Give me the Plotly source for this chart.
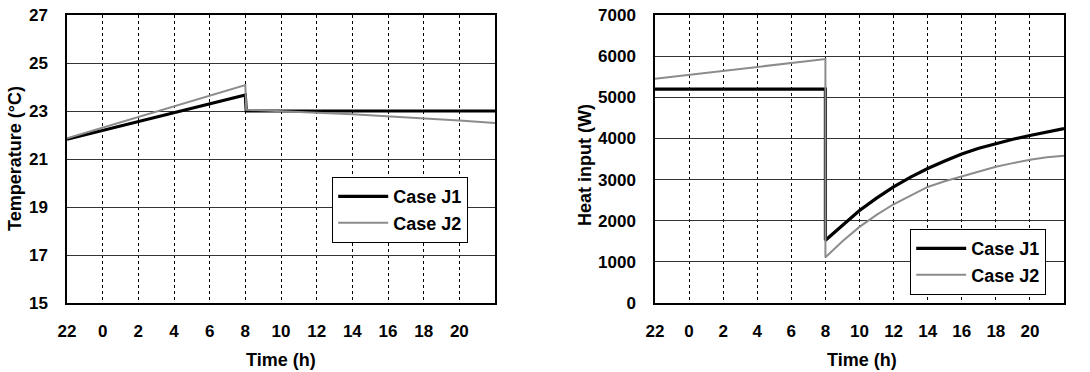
import plotly.graph_objects as go

# Time axis: hours elapsed since 22:00 (0 = 22h, 10 = 8h, 24 = 22h next day)
tick_vals = [0, 2, 4, 6, 8, 10, 12, 14, 16, 18, 20, 22]
tick_text = ["22", "0", "2", "4", "6", "8", "10", "12", "14", "16", "18", "20"]

# Temperature (°C)
temp_t_j1 = [0, 10, 10.05, 24]
temp_j1 = [21.82, 23.67, 23.0, 23.0]
temp_t_j2 = [0, 10, 10.05, 12, 14, 16, 18, 20, 22, 24]
temp_j2 = [21.86, 24.08, 23.05, 23.0, 22.93, 22.86, 22.78, 22.69, 22.6, 22.5]

# Heat input (W)
heat_t = [0, 10, 10, 11, 12, 13, 14, 15, 16, 17, 18, 19, 20, 21, 22, 23, 24]
heat_j1 = [5200, 5200, 1525, 1900, 2250, 2550, 2820, 3060, 3270, 3450, 3620,
           3760, 3880, 3980, 4070, 4160, 4240]
heat_j2 = [5450, 5930, 1110, 1500, 1850, 2140, 2400, 2620, 2820, 2960, 3080,
           3200, 3310, 3400, 3480, 3540, 3580]

FONT = "Liberation Sans, Arial, sans-serif"
J1_STYLE = dict(color="black", width=3.2)
J2_STYLE = dict(color="#8c8c8c", width=2)

fig = go.Figure()
fig.add_trace(go.Scatter(x=temp_t_j1, y=temp_j1, mode="lines", name="Case J1",
                         line=J1_STYLE, xaxis="x", yaxis="y", legend="legend"))
fig.add_trace(go.Scatter(x=temp_t_j2, y=temp_j2, mode="lines", name="Case J2",
                         line=J2_STYLE, xaxis="x", yaxis="y", legend="legend"))
fig.add_trace(go.Scatter(x=heat_t, y=heat_j1, mode="lines", name="Case J1",
                         line=J1_STYLE, xaxis="x2", yaxis="y2", legend="legend2"))
fig.add_trace(go.Scatter(x=heat_t, y=heat_j2, mode="lines", name="Case J2",
                         line=J2_STYLE, xaxis="x2", yaxis="y2", legend="legend2"))

W, H = 1090, 372
def px_x(p):
    return p / W
def px_y(p):
    return 1 - p / H

common_x = dict(range=[0, 24], tickmode="array", tickvals=tick_vals, ticktext=tick_text,
                showgrid=True, gridcolor="black", gridwidth=1, griddash="dot",
                showline=True, linecolor="black", linewidth=1.5, mirror=True,
                ticks="", zeroline=False, ticklabelstandoff=12, automargin=False,
                tickfont=dict(family=FONT, size=17, color="black", weight="bold"))
common_y = dict(showgrid=True, gridcolor="#333333", gridwidth=1,
                showline=True, linecolor="black", linewidth=1.5, mirror=True,
                ticks="", zeroline=False, ticklabelstandoff=14, automargin=False,
                tickfont=dict(family=FONT, size=17, color="black", weight="bold"))

legend_common = dict(xanchor="left", yanchor="top",
                     bgcolor="white", bordercolor="black", borderwidth=1.2,
                     font=dict(family=FONT, size=18, color="black", weight="bold"),
                     itemwidth=50, tracegroupgap=0)

fig.update_layout(
    template="none",
    width=W, height=H,
    margin=dict(l=0, r=0, t=0, b=0, autoexpand=False),
    paper_bgcolor="white", plot_bgcolor="white",
    xaxis=dict(domain=[px_x(67), px_x(495)], anchor="y", **common_x),
    yaxis=dict(domain=[px_y(303), px_y(15)], anchor="x", range=[15, 27], dtick=2,
               tick0=15, **common_y),
    xaxis2=dict(domain=[px_x(655), px_x(1064)], anchor="y2", **common_x),
    yaxis2=dict(domain=[px_y(303), px_y(15)], anchor="x2", range=[0, 7000], dtick=1000,
                tick0=0, **common_y),
    legend=dict(x=px_x(332), y=px_y(177), **legend_common),
    legend2=dict(x=px_x(910), y=px_y(229), **legend_common),
    showlegend=True,
)

title_font = dict(family=FONT, size=18, color="black", weight="bold")
for txt, x, y, ang in [("Temperature (°C)", 15, 159, -90),
                       ("Heat input (W)", 585, 165, -90),
                       ("Time (h)", 281, 360, 0),
                       ("Time (h)", 862, 360, 0)]:
    fig.add_annotation(text=txt, x=px_x(x), y=px_y(y), xref="paper", yref="paper",
                       xanchor="center", yanchor="middle", textangle=ang,
                       showarrow=False, font=title_font)

fig.write_html("out.html", config={"displayModeBar": False},
               post_script="document.body.style.margin='0';")
